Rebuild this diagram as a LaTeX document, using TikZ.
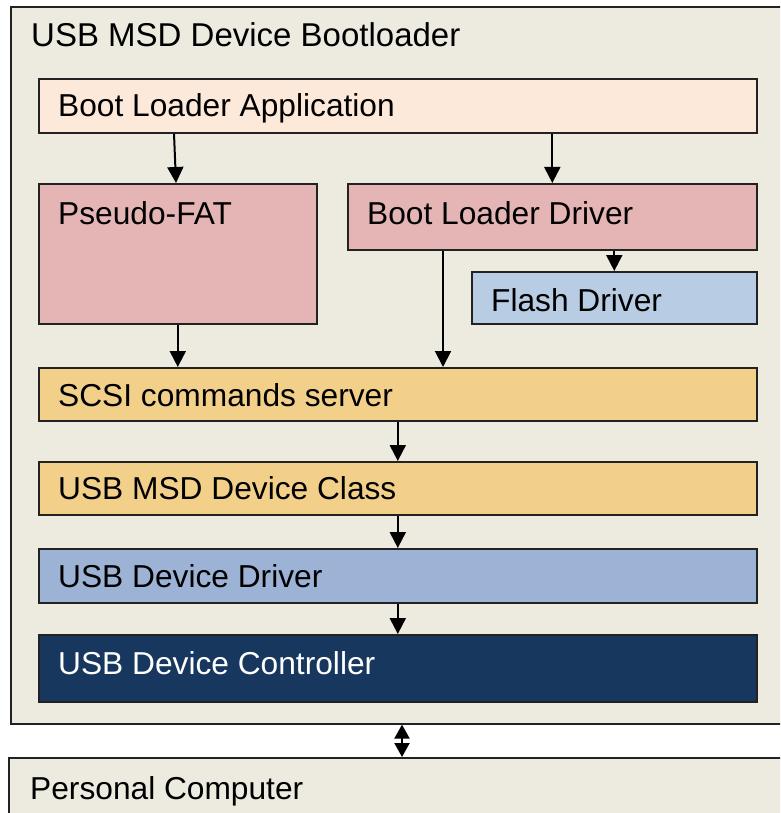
\documentclass[tikz,border=0pt]{standalone}
\usepackage{fontspec}
\setmainfont{Liberation Sans}
\usetikzlibrary{arrows.meta,calc}
\definecolor{bgbeige}{HTML}{EDEAE0}
\definecolor{appc}{HTML}{FDE9DA}
\definecolor{rosec}{HTML}{E5B5B5}
\definecolor{flashc}{HTML}{B8CCE4}
\definecolor{yelc}{HTML}{F2D08A}
\definecolor{drvc}{HTML}{9DB3D6}
\definecolor{navyc}{HTML}{17375E}
\definecolor{edgec}{HTML}{222222}
\begin{document}
\begin{tikzpicture}[x=1pt,y=-1pt,
  box/.style={draw=edgec, line width=1.6pt, inner sep=0pt, anchor=north west},
  txt/.style={anchor=base west, inner sep=0pt, font=\fontsize{31.7}{37}\selectfont},
  arr/.style={line width=2pt, -{Triangle[length=16pt,width=16pt]}},
  darr/.style={line width=2pt, {Triangle[length=14pt,width=15pt]}-{Triangle[length=14pt,width=15pt]}}]
\useasboundingbox (0,0) rectangle (780,813);
\fill[white] (0,0) rectangle (780,813);
\clip (0,0) rectangle (780,813);
% outer containers
\node[box, fill=bgbeige, minimum width=790pt, minimum height=717pt] (outer) at (10,6) {};
\node[box, fill=bgbeige, minimum width=790pt, minimum height=80pt] (pc) at (8,757) {};
% inner boxes
\node[box, fill=appc, minimum width=718pt, minimum height=54pt] (app) at (38,78) {};
\node[box, fill=rosec, minimum width=278pt, minimum height=140pt] (pfat) at (38,183) {};
\node[box, fill=rosec, minimum width=409pt, minimum height=66pt] (bld) at (347,183) {};
\node[box, fill=flashc, minimum width=285pt, minimum height=52pt] (flash) at (471,271) {};
\node[box, fill=yelc, minimum width=718pt, minimum height=53pt] (scsi) at (38,367) {};
\node[box, fill=yelc, minimum width=718pt, minimum height=53pt] (cls) at (38,461) {};
\node[box, fill=drvc, minimum width=718pt, minimum height=54pt] (drv) at (38,548) {};
\node[box, fill=navyc, minimum width=718pt, minimum height=67pt] (ctrl) at (38,634) {};
% texts
\node[txt, font=\fontsize{33}{39}\selectfont] (ttitle) at (31,47) {USB MSD Device Bootloader};
\node[txt] (tapp) at (58,117) {Boot Loader Application};
\node[txt] (tpfat) at (58,224) {Pseudo-FAT};
\node[txt] (tbld) at (367,224) {Boot Loader Driver};
\node[txt] (tflash) at (491,311) {Flash Driver};
\node[txt] (tscsi) at (58,406) {SCSI commands server};
\node[txt] (tcls) at (58,499) {USB MSD Device Class};
\node[txt] (tdrv) at (58,587) {USB Device Driver};
\node[txt, text=white] (tctrl) at (58,674) {USB Device Controller};
\node[txt] (tpc) at (30,799) {Personal Computer};
% connectors
\draw[arr] ([xshift=136pt]app.south west) -- ([xshift=138pt]pfat.north west);
\draw[arr] (app.south -| bld.north) -- (bld.north);
\draw[arr] (bld.south -| flash.north) -- (flash.north);
\draw[arr] ([xshift=96pt]bld.south west) -- ([xshift=405pt]scsi.north west);
\draw[arr] (pfat.south) -- (scsi.north -| pfat.south);
\draw[arr] (scsi.south) -- (cls.north);
\draw[arr] (cls.south) -- (drv.north);
\draw[arr] (drv.south) -- (ctrl.north);
\coordinate (dx) at (402,0);
\draw[darr] (outer.south -| dx) -- (pc.north -| dx);
\end{tikzpicture}
\end{document}
